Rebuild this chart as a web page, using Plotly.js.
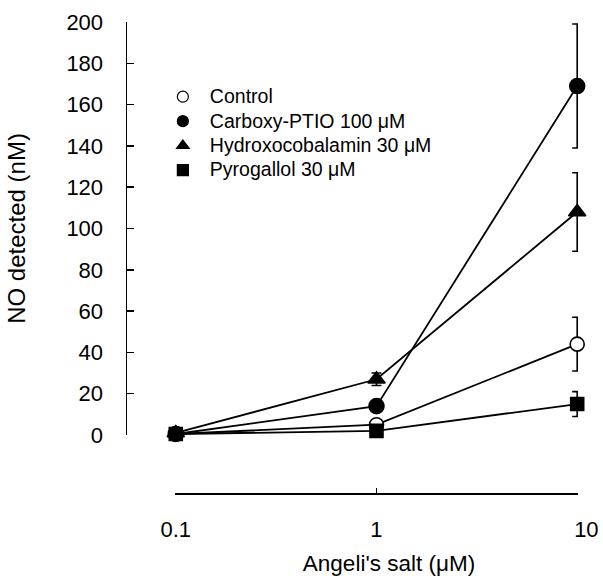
<!DOCTYPE html>
<html>
<head>
<meta charset="utf-8">
<script src="https://cdn.plot.ly/plotly-3.0.1.min.js"></script>
<style>html,body{margin:0;padding:0;background:#fff;}#chart{width:603px;height:579px;}</style>
</head>
<body>
<div id="chart"></div>
<script>
const doses = [0.1, 1, 10];
const xTickLabels = ['0.1', '1', '\u00a0\u00a0\u00a010'];
const seriesNames = ['Control', 'Carboxy-PTIO 100 μM', 'Hydroxocobalamin 30 μM', 'Pyrogallol 30 μM'];
const control = [0.5, 5, 44];
const controlErr = [0, 0, 13];
const carboxy = [0.5, 14, 169];
const carboxyErr = [0, 0, 30];
const hydroxo = [1, 27, 108];
const hydroxoErr = [0, 3, 19];
const pyro = [0.5, 2, 15];
const pyroErr = [0, 0, 6];
const yTicks = [0, 20, 40, 60, 80, 100, 120, 140, 160, 180, 200];

const symbols = ['circle', 'circle', 'triangle-up', 'square'];
const fills = ['#fff', '#000', '#000', '#000'];
const vals = [control, carboxy, hydroxo, pyro];
const errs = [controlErr, carboxyErr, hydroxoErr, pyroErr];
const sizes = [14, 15, 15, 13];

const traces = [];
vals.forEach((v, i) => {
  traces.push({
    x: doses, y: v, type: 'scatter', mode: 'lines+markers', showlegend: false,
    cliponaxis: false, xaxis: 'x', yaxis: 'y',
    line: {color: '#000', width: 1.8},
    marker: {symbol: symbols[i], size: sizes[i], color: fills[i], line: {color: '#000', width: 1.6}},
    error_y: {type: 'data', array: errs[i], visible: true, color: '#000', thickness: 1.6, width: 5}
  });
});
vals.forEach((v, i) => {
  traces.push({
    x: [null], y: [null], type: 'scatter', mode: 'markers',
    name: '<span style="font-size:19.5px">' + seriesNames[i] + '</span>', xaxis: 'x', yaxis: 'y',
    marker: {symbol: symbols[i], size: 11, color: fills[i], line: {color: '#000', width: 1.2}}
  });
});
traces.push({x: [null], y: [null], type: 'scatter', mode: 'markers', xaxis: 'x2', yaxis: 'y2',
             showlegend: false, hoverinfo: 'skip'});

const layout = {
  width: 603, height: 579,
  margin: {l: 127, r: 25, t: 22, b: 86},
  paper_bgcolor: '#fff', plot_bgcolor: 'rgba(0,0,0,0)',
  font: {family: 'Liberation Sans, Arial, sans-serif', size: 16, color: '#000'},
  showlegend: true,
  legend: {x: 0.064, y: 0.878, xanchor: 'left', yanchor: 'top', bgcolor: 'rgba(0,0,0,0)',
           font: {size: 16.5}, tracegroupgap: 0, itemwidth: 44},
  xaxis: {
    type: 'log', range: [-1.004, 1.004], domain: [0.1064, 1], anchor: 'y2',
    tickvals: doses, ticktext: xTickLabels, ticks: 'inside', ticklen: 5, tickwidth: 1.5, tickcolor: '#000',
    showline: true, linecolor: '#000', linewidth: 1.5, showgrid: false, zeroline: false,
    ticklabelstandoff: 16, tickfont: {size: 22},
    title: {text: "\u200b\u00a0\u00a0\u00a0\u00a0Angeli's salt (μM)", font: {size: 22.5}, standoff: 14}
  },
  yaxis: {
    range: [0, 200], domain: [0.1231, 1], anchor: 'x2',
    tickvals: yTicks, ticks: 'inside', ticklen: 7, tickwidth: 1.5, tickcolor: '#000',
    showline: true, linecolor: '#000', linewidth: 1.5, showgrid: false, zeroline: false,
    ticklabelstandoff: 18, tickfont: {size: 22},
    title: {text: 'NO detected (nM)', font: {size: 24}, standoff: 34}
  },
  xaxis2: {domain: [0, 0.02], anchor: 'y', visible: false, showgrid: false, zeroline: false, range: [0, 1]},
  yaxis2: {domain: [0, 0.02], anchor: 'x', visible: false, showgrid: false, zeroline: false, range: [0, 1]}
};

Plotly.newPlot('chart', traces, layout, {displayModeBar: false, staticPlot: true});
</script>
</body>
</html>
